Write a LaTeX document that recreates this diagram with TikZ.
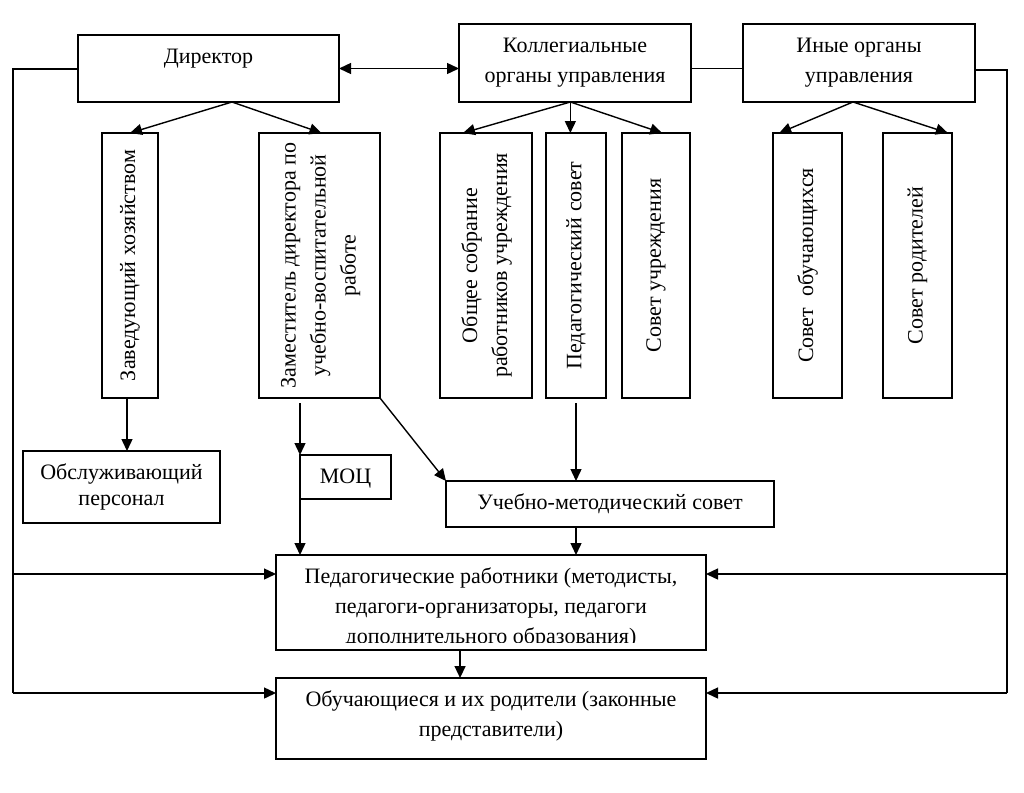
\documentclass[tikz,border=0pt]{standalone}
\usepackage{fontspec}
\setmainfont{Liberation Serif}
\usepackage{graphicx}
\usetikzlibrary{arrows.meta,calc}
\begin{document}
\begin{tikzpicture}[x=1pt,y=-1pt,
  hbox/.style={draw, line width=1.4pt, inner sep=0pt, outer sep=0pt, anchor=north west,
    align=center, font=\fontsize{22}{30}\selectfont, text height=28.5pt},
  vbox/.style={draw, line width=1.4pt, inner sep=0pt, outer sep=0pt, anchor=north west,
    minimum height=265pt, font=\fontsize{22}{30}\selectfont},
  arr/.style={line width=1.4pt, -{Triangle[length=12pt,width=11pt]}},
  darr/.style={line width=1.4pt, {Triangle[length=12pt,width=11pt]}-{Triangle[length=12pt,width=11pt]}},
  conn/.style={line width=1.4pt}]
\useasboundingbox (0,0) rectangle (1024,792);

% top row
\node[hbox, minimum width=261pt, text depth=38.5pt] (dir) at (78,35) {Директор};
\node[hbox, minimum width=232pt, text height=58.5pt, text depth=19.5pt] (kol) at (459,24) {Коллегиальные\\органы управления};
\node[hbox, minimum width=232pt, text height=58.5pt, text depth=19.5pt] (iny) at (743,24) {Иные органы\\управления};

% vertical boxes
\node[vbox, minimum width=56pt] (zav) at (102,133) {\rotatebox{90}{Заведующий хозяйством}};
\node[vbox, minimum width=121pt] (zam) at (259,133) {\rotatebox{90}{\begin{tabular}{@{}c@{}}Заместитель директора по\\учебно-воспитательной\\работе\end{tabular}}};
\node[vbox, minimum width=92pt] (obs) at (440,133) {\rotatebox{90}{\begin{tabular}{@{}c@{}}Общее собрание\\работников учреждения\end{tabular}}};
\node[vbox, minimum width=60pt] (pso) at (546,133) {\rotatebox{90}{Педагогический совет}};
\node[vbox, minimum width=68pt] (suc) at (622,133) {\rotatebox{90}{Совет учреждения}};
\node[vbox, minimum width=69pt] (sob) at (773,133) {\rotatebox{90}{Совет\ \ обучающихся}};
\node[vbox, minimum width=69pt] (sro) at (883,133) {\rotatebox{90}{Совет родителей}};

% lower boxes
\node[hbox, minimum width=197pt, text height=54.5pt, text depth=17.5pt, font=\fontsize{22}{26}\selectfont] (ser) at (23,451) {Обслуживающий\\персонал};
\node[hbox, minimum width=91pt, text depth=15.5pt] (moc) at (300,455) {МОЦ};
\node[hbox, minimum width=328pt, text depth=17.5pt] (umc) at (446,481) {Учебно-методический совет};
\node[hbox, minimum width=430pt, text depth=66.5pt,
  path picture={
    \clip ([yshift=8pt]path picture bounding box.south west) rectangle (path picture bounding box.north east);
    \node[draw=none, inner sep=0pt, minimum width=0pt, minimum height=0pt, align=center,
      font=\fontsize{22}{30}\selectfont, anchor=north, text height=88.5pt, text depth=6pt]
      at (path picture bounding box.north)
      {Педагогические работники (методисты,\\педагоги-организаторы, педагоги\\дополнительного образования)};
  }] (ped) at (276,555) {};
\node[hbox, minimum width=430pt, text height=58.5pt, text depth=22.5pt] (obu) at (276,678) {Обучающиеся и их родители (законные\\представители)};

% top connectors
\draw[darr] (dir.east) -- (dir.east -| kol.west);
\draw[conn] (dir.east -| kol.east) -- (dir.east -| iny.west);

\coordinate (dsrc) at ($(dir.south west)!0.59!(dir.south east)$);
\draw[arr] (dsrc) -- (zav.north);
\draw[arr] (dsrc) -- ([xshift=2pt]zam.north);

\coordinate (ksrc) at ($(kol.south west)!0.48!(kol.south east)$);
\draw[arr] (ksrc) -- ($(obs.north west)!0.25!(obs.north east)$);
\draw[arr] (ksrc) -- (ksrc |- pso.north);
\draw[arr] (ksrc) -- ($(suc.north west)!0.59!(suc.north east)$);

\coordinate (isrc) at ($(iny.south west)!0.474!(iny.south east)$);
\draw[arr] (isrc) -- ($(sob.north west)!0.09!(sob.north east)$);
\draw[arr] (isrc) -- ($(sro.north west)!0.94!(sro.north east)$);

% side lines
\coordinate (Ltop) at (13,69);
\coordinate (Lped) at (13,574);
\coordinate (Lobu) at (13,693);
\draw[conn] (dir.west |- Ltop) -- (Ltop) -- (Lobu);
\draw[arr] (Lped) -- (Lped -| ped.west);
\draw[arr] (Lobu) -- (Lobu -| obu.west);

\coordinate (Rtop) at (1007,70);
\coordinate (Rped) at (1007,574);
\coordinate (Robu) at (1007,693);
\draw[conn] (iny.east |- Rtop) -- (Rtop) -- (Robu);
\draw[arr] (Rped) -- (Rped -| ped.east);
\draw[arr] (Robu) -- (Robu -| obu.east);

% middle connectors
\draw[arr] ([xshift=-3pt]zav.south) -- ([xshift=-3pt]zav.south |- ser.north);
\draw[arr] ([yshift=-5pt]zam.south -| moc.west) -- (moc.north west);
\draw[arr] (moc.south west) -- (moc.south west |- ped.north);
\draw[arr] (zam.south east) -- (umc.north west);
\draw[arr] ([yshift=-5pt]pso.south) -- (pso.south |- umc.north);
\draw[arr] (pso.south |- umc.south) -- (pso.south |- ped.north);
\coordinate (psrc) at ($(ped.south west)!0.428!(ped.south east)$);
\draw[arr] (psrc) -- (psrc |- obu.north);
\end{tikzpicture}
\end{document}
